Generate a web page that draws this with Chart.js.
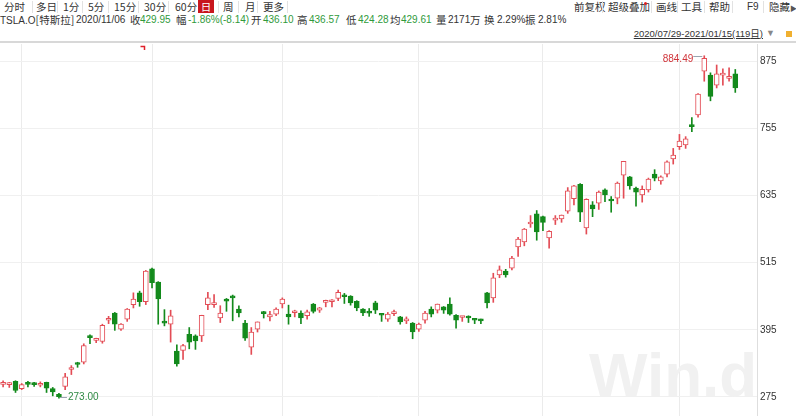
<!DOCTYPE html>
<html><head><meta charset="utf-8">
<script src="https://cdn.jsdelivr.net/npm/chart.js@4.4.1/dist/chart.umd.min.js"></script>
<style>
html,body{margin:0;padding:0;background:#fff;}
body{width:796px;height:416px;position:relative;overflow:hidden;font-family:"Liberation Sans",Arial,"Noto Sans CJK SC",sans-serif;}
.t{position:absolute;white-space:nowrap;font-size:10px;line-height:14px;height:14px;color:#333;}
.c{font-family:"Noto Sans CJK SC",sans-serif;font-size:10.5px;}
.r1{top:0px;font-family:"Noto Sans CJK SC",sans-serif;font-size:10.5px;}
.r2{top:13px;}
.sep{position:absolute;width:1px;background:#e2e2e2;top:1px;height:12px;}
.g{color:#2f9a3b;}
#wrap{position:absolute;left:0;top:41px;width:796px;height:379px;}
#band{position:absolute;left:0;top:41px;width:796px;height:2px;background:#d8d8d8;}
</style></head>
<body>
<!-- row 1 toolbar -->
<span class="t r1" style="left:4px">分时</span><span class="sep" style="left:32px"></span>
<span class="t r1" style="left:36px">多日</span><span class="sep" style="left:57px"></span>
<span class="t r1" style="left:63px">1分</span><span class="sep" style="left:82px"></span>
<span class="t r1" style="left:88px">5分</span><span class="sep" style="left:108px"></span>
<span class="t r1" style="left:114px">15分</span><span class="sep" style="left:138px"></span>
<span class="t r1" style="left:144px">30分</span><span class="sep" style="left:168px"></span>
<span class="t r1" style="left:175px">60分</span>
<span class="t r1" style="left:198px;width:16px;height:13px;line-height:13px;background:#c8161d;color:#fff;text-align:center;">日</span>
<span class="sep" style="left:218px"></span>
<span class="t r1" style="left:223px">周</span><span class="sep" style="left:238px"></span>
<span class="t r1" style="left:245px">月</span><span class="sep" style="left:257px"></span>
<span class="t r1" style="left:263px">更多</span><span class="sep" style="left:287px"></span>

<span class="t r1" style="left:574px">前复权</span><span class="sep" style="left:602px"></span>
<span class="t r1" style="left:608px">超级叠加</span>
<span style="position:absolute;left:644px;top:2px;width:3px;height:3px;border-radius:2px;background:#e02020"></span>
<span class="sep" style="left:651px"></span>
<span class="t r1" style="left:656px">画线</span><span class="sep" style="left:677px"></span>
<span class="t r1" style="left:681px">工具</span><span class="sep" style="left:704px"></span>
<span class="t r1" style="left:709px">帮助</span><span class="sep" style="left:732px"></span>
<span class="t r1" style="left:747px;font-family:'Liberation Sans',Arial;font-size:10px">F9</span><span class="sep" style="left:763px"></span>
<span class="t r1" style="left:769px">隐藏<span style="font-size:7px;color:#555">▶</span></span>

<!-- row 2 quote -->
<span class="t r2" style="left:0px">TSLA.O<span class="c">[特斯拉]</span></span>
<span class="t r2" style="left:76px">2020/11/06</span>
<span class="t r2 c" style="left:130px">收</span><span class="t r2 g" style="left:140px">429.95</span>
<span class="t r2 c" style="left:176px">幅</span><span class="t r2 g" style="left:188px">-1.86%(-8.14)</span>
<span class="t r2 c" style="left:251px">开</span><span class="t r2 g" style="left:263px">436.10</span>
<span class="t r2 c" style="left:297px">高</span><span class="t r2 g" style="left:309px">436.57</span>
<span class="t r2 c" style="left:346px">低</span><span class="t r2 g" style="left:358px">424.28</span>
<span class="t r2 c" style="left:390px">均</span><span class="t r2 g" style="left:401px">429.61</span>
<span class="t r2 c" style="left:436px">量</span><span class="t r2" style="left:448px">2171</span><span class="t r2 c" style="left:470px">万</span>
<span class="t r2 c" style="left:484px">换</span><span class="t r2" style="left:497px">2.29%</span>
<span class="t r2 c" style="left:525px">振</span><span class="t r2" style="left:538px">2.81%</span>

<!-- date range -->
<span class="t" style="top:26px;right:33px;font-size:9.5px;text-decoration:underline;">2020/07/29-2021/01/15(119<span class="c" style="font-size:9.5px">日</span>)</span>
<span class="t" style="top:26px;left:766px;font-size:9px;color:#888">▼</span>
<span style="position:absolute;left:786px;top:31px;width:6px;height:6px;background:#f0b030"></span>

<div id="band"></div>
<div id="wrap"><canvas id="c"></canvas></div>

<script>
// ---------- data ----------
const dates = [
"2020-07-29","2020-07-30","2020-07-31",
"2020-08-03","2020-08-04","2020-08-05","2020-08-06","2020-08-07","2020-08-10","2020-08-11","2020-08-12","2020-08-13","2020-08-14",
"2020-08-17","2020-08-18","2020-08-19","2020-08-20","2020-08-21","2020-08-24","2020-08-25","2020-08-26","2020-08-27","2020-08-28","2020-08-31",
"2020-09-01","2020-09-02","2020-09-03","2020-09-04","2020-09-08","2020-09-09","2020-09-10","2020-09-11","2020-09-14","2020-09-15","2020-09-16",
"2020-09-17","2020-09-18","2020-09-21","2020-09-22","2020-09-23","2020-09-24","2020-09-25","2020-09-28","2020-09-29","2020-09-30",
"2020-10-01","2020-10-02","2020-10-05","2020-10-06","2020-10-07","2020-10-08","2020-10-09","2020-10-12","2020-10-13","2020-10-14","2020-10-15",
"2020-10-16","2020-10-19","2020-10-20","2020-10-21","2020-10-22","2020-10-23","2020-10-26","2020-10-27","2020-10-28","2020-10-29","2020-10-30",
"2020-11-02","2020-11-03","2020-11-04","2020-11-05","2020-11-06","2020-11-09","2020-11-10","2020-11-11","2020-11-12","2020-11-13","2020-11-16",
"2020-11-17","2020-11-18","2020-11-19","2020-11-20","2020-11-23","2020-11-24","2020-11-25","2020-11-27","2020-11-30",
"2020-12-01","2020-12-02","2020-12-03","2020-12-04","2020-12-07","2020-12-08","2020-12-09","2020-12-10","2020-12-11","2020-12-14","2020-12-15",
"2020-12-16","2020-12-17","2020-12-18","2020-12-21","2020-12-22","2020-12-23","2020-12-24","2020-12-28","2020-12-29","2020-12-30","2020-12-31",
"2021-01-04","2021-01-05","2021-01-06","2021-01-07","2021-01-08","2021-01-11","2021-01-12","2021-01-13","2021-01-14","2021-01-15"];

const opens = [297.5,297,303,290,299,298.5,296,301,290,279.5,294,324,335,337,383,376,374,412,425,396,414,440,461,445,
504,480,408,405,357,358,387,384,384,440,440,416,450,455,432,407,364,396,426,418,423,
441,423,425.5,425,420,441,430,444,445,451,455,455,446,432,425.5,443,422,414,424,418,411,407,
396,412,432,430,436.10,441,421,417,417,413,412,461,452,493,500,505,543,552,584,602,
597,559,591,593,607,629,655,577,618,621,645,628,630,671,668,648,636,645,673,661,673,700,
722,725,760,779,857,850,832,850,844,852];
const highs = [304,301,304,299,303,301,302,301.5,292,281.5,317,331,337,370,386,380,405,419,426,406,433,461,464,501,
505,481,431,430,368,369,399,386,421,462,458,438,451,457,438,412,399,409,428,428,434,
452,439,430,429,430,442,435,448,449,466,460,456,447,433,433,446,424,426,430,419,418,408,
407,428,436,441,436.57,452,422,419,420,415,414,462,496,509,503,526,560,576,599,608,
598,572,599,600,649,653,656,629,624,643,647,633,659,696,669,650,652,666,681,670,697,719,
744,740,774,817,884.49,854,868,861,863,860];
const lows = [293,292,283,288,293,294,293,283,277,273,288,315,328,334,370,372,371,406,394,394,410,434,437,440,
470,405,402,373,330,342,361,360,374,431,435,408,428,411,418,376,351,391,416,411,420,
434,405,418,406,414,425,426,436,436,447,442,439,429,420,419,424,410,410,420,405,406,379,
392,407,418,425,424.28,421,398,410,408,406,406,434,444,488,489,502,526,545,578,555,
572,541,583,587,603,618,588,566,597,610,624,605,620,630,646,616,623,641,661,655,668,691,
717,719,749,775,839,804,827,832,839,819];
const closes = [299.8,297.5,286.5,297,297.5,297,298,290.5,284,275.5,311,326,333,367,381,377.5,403,414,405,405,432,450,445,500,
479,450,407,420,334,367,373,375,421,452,441.5,425,446,452,425,380,391,409,424,422,432,
450,418,427,416,427,428,434,445,446.5,462,454,443,434,425,424.8,430,421,423,425.5,409,412,391,
405,425,423,441,429.95,423,412,418,416,412,411,443,488,502,493,523,557,575,587,570,
587,571,593,600,643,652,605,628,611,641,636,625,657,696,652,641,646,664,666,668,695,707,
732,736,758,816,880,812,852,852,846,827];

const yTicks = [275,395,515,635,755,875];
const splitDate = "2020-08-31";
const padLabels = ["","",""];

// ---------- styles ----------
const RED = '#e34c55', GREEN = '#138a1c';
const labels = dates.concat(padLabels);
const up = closes.map((c,i)=> c >= opens[i]);
const monthStart = new Set();
dates.forEach((d,i)=>{ if(i>0 && d.slice(5,7)!==dates[i-1].slice(5,7)) monthStart.add(i); });

const annot = {
  id:'annot',
  beforeDatasetsDraw(chart){
    const {ctx, chartArea:a} = chart;
    ctx.save();
    ctx.font = 'bold 62px "Liberation Sans", Arial';
    ctx.fillStyle = '#f1f1f1';
    ctx.textBaseline = 'alphabetic';
    ctx.fillText('Win.d', 589, a.bottom - 21);
    ctx.restore();
  },
  afterDatasetsDraw(chart){
    const {ctx, scales:{x,y}, chartArea:a} = chart;
    ctx.save();
    ctx.font = '10px "Liberation Sans", Arial';
    ctx.lineWidth = 1;
    const hiV = Math.max(...highs), hi = highs.indexOf(hiV);
    const loV = Math.min(...lows), lo = lows.indexOf(loV);
    let px = x.getPixelForValue(hi), py = Math.round(y.getPixelForValue(hiV)) + 0.5;
    ctx.strokeStyle = '#9aa4b0';
    ctx.beginPath(); ctx.moveTo(px-2, py); ctx.lineTo(px-11, py); ctx.stroke();
    ctx.fillStyle = '#d0343a'; ctx.textAlign = 'right'; ctx.textBaseline = 'middle';
    ctx.fillText(hiV.toFixed(2), px-11, py+3);
    px = x.getPixelForValue(lo); py = Math.round(y.getPixelForValue(loV)) - 0.5;
    ctx.strokeStyle = '#9aa4b0';
    ctx.beginPath(); ctx.moveTo(px+1, py); ctx.lineTo(px+8, py); ctx.stroke();
    ctx.fillStyle = '#2f8a44'; ctx.textAlign = 'left';
    ctx.fillText(loV.toFixed(2), px+9, py);
    // split marker
    const si = dates.indexOf(splitDate);
    const sx = Math.round(x.getPixelForValue(si)) - 1.5;
    ctx.strokeStyle = '#e0202a'; ctx.lineWidth = 1.5;
    ctx.beginPath(); ctx.moveTo(sx-4, a.top+2.5); ctx.lineTo(sx, a.top+2.5); ctx.lineTo(sx, a.top+6); ctx.stroke();
    ctx.restore();
  }
};

new Chart(document.getElementById('c'), {
  type:'bar',
  data:{
    labels,
    datasets:[
      { label:'wick', data: lows.map((l,i)=>[l, highs[i]]), grouped:false, order:2,
        barThickness:1, backgroundColor: up.map(u=>u?RED:GREEN), borderWidth:0 },
      { label:'body', data: opens.map((o,i)=>[o, closes[i]]), grouped:false, order:1,
        barThickness:5, minBarLength:2, borderSkipped:false, borderWidth:1,
        backgroundColor: up.map(u=>u?'#ffffff':GREEN), borderColor: up.map(u=>u?RED:GREEN) }
    ]
  },
  options:{
    responsive:true, maintainAspectRatio:false, animation:false,
    layout:{padding:0},
    plugins:{legend:{display:false}, tooltip:{enabled:false}},
    scales:{
      x:{ type:'category', offset:true,
          grid:{ offset:false, drawTicks:false, color:(c)=> monthStart.has(c.index) ? '#ebebeb' : 'rgba(0,0,0,0)' },
          ticks:{ display:false, autoSkip:false }, border:{display:false} },
      y:{ position:'right', min:239.3, max:905.4,
          afterBuildTicks:(s)=>{ s.ticks = yTicks.map(v=>({value:v})); },
          afterFit:(s)=>{ s.width = 39; },
          grid:{ color:'#f0f0f0', drawTicks:false },
          border:{ display:true, color:'#dedede' },
          ticks:{ padding:3, color:'#333', font:{size:10, lineHeight:0.01, family:'"Liberation Sans", Arial'}, callback:(v)=>String(v) } }
    }
  },
  plugins:[annot]
});
</script>
</body></html>
